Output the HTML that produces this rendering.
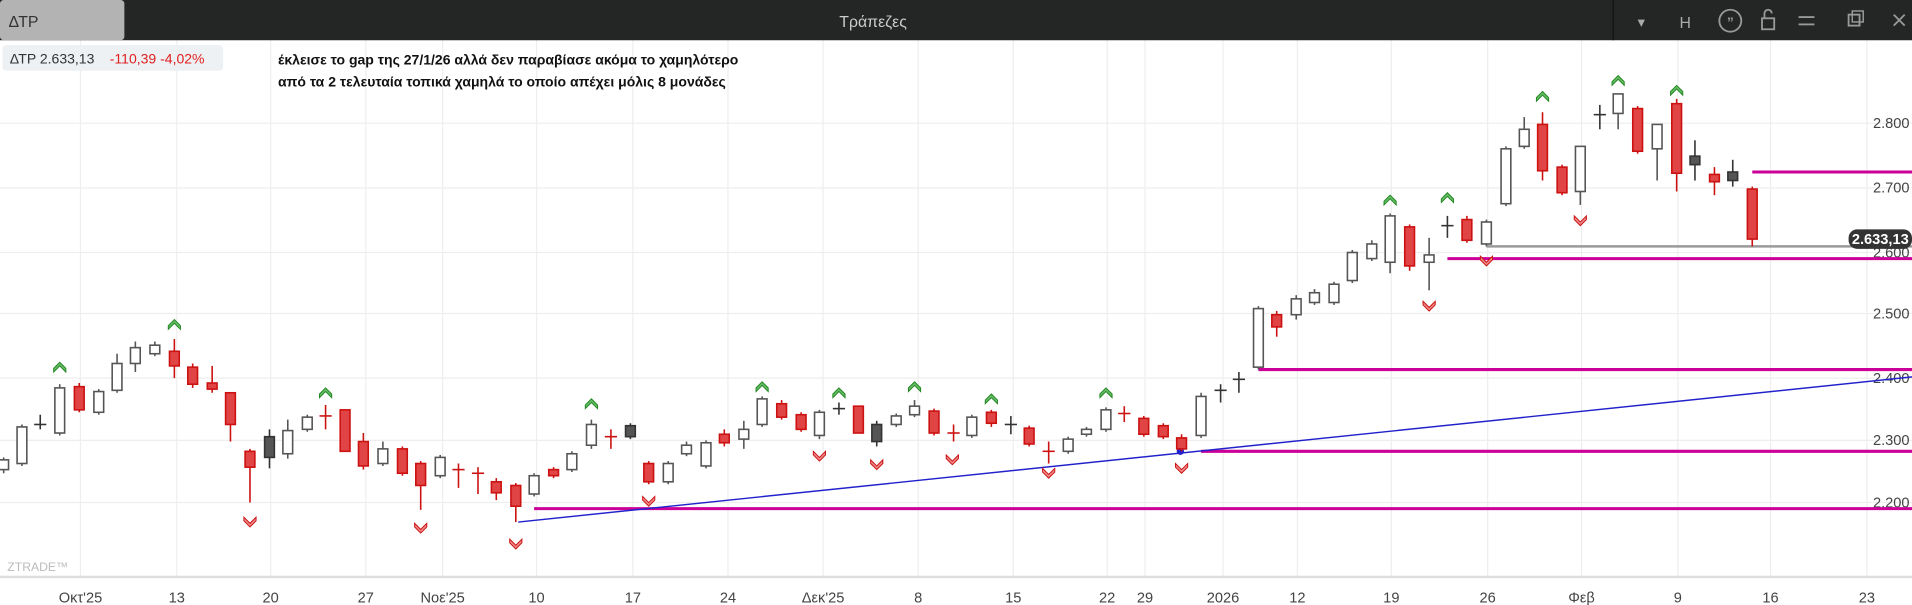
<!DOCTYPE html><html><head><meta charset="utf-8"><style>body{margin:0;background:#fff}svg{display:block}</style></head><body>
<svg width="1912" height="605" viewBox="0 0 1568 496" preserveAspectRatio="none" xmlns="http://www.w3.org/2000/svg" font-family="Liberation Sans, DejaVu Sans, sans-serif">
<rect width="1568" height="496" fill="#fff"/>
<g stroke="#eeeeee" stroke-width="1">
<line x1="0" y1="101" x2="1568" y2="101"/><line x1="0" y1="154" x2="1568" y2="154"/><line x1="0" y1="207" x2="1568" y2="207"/><line x1="0" y1="257" x2="1568" y2="257"/><line x1="0" y1="310" x2="1568" y2="310"/><line x1="0" y1="361" x2="1568" y2="361"/><line x1="0" y1="412" x2="1568" y2="412"/>
<line x1="66" y1="33" x2="66" y2="473"/><line x1="145" y1="33" x2="145" y2="473"/><line x1="222" y1="33" x2="222" y2="473"/><line x1="300" y1="33" x2="300" y2="473"/><line x1="363" y1="33" x2="363" y2="473"/><line x1="440" y1="33" x2="440" y2="473"/><line x1="519" y1="33" x2="519" y2="473"/><line x1="597" y1="33" x2="597" y2="473"/><line x1="675" y1="33" x2="675" y2="473"/><line x1="753" y1="33" x2="753" y2="473"/><line x1="831" y1="33" x2="831" y2="473"/><line x1="908" y1="33" x2="908" y2="473"/><line x1="939" y1="33" x2="939" y2="473"/><line x1="1003" y1="33" x2="1003" y2="473"/><line x1="1064" y1="33" x2="1064" y2="473"/><line x1="1141" y1="33" x2="1141" y2="473"/><line x1="1220" y1="33" x2="1220" y2="473"/><line x1="1297" y1="33" x2="1297" y2="473"/><line x1="1376" y1="33" x2="1376" y2="473"/><line x1="1452" y1="33" x2="1452" y2="473"/><line x1="1531" y1="33" x2="1531" y2="473"/>
</g>
<line x1="0" y1="473" x2="1568" y2="473" stroke="#dddddd" stroke-width="2"/>
<!-- top bar -->
<rect x="0" y="0" width="1568" height="33" fill="#232624"/>
<rect x="0" y="0" width="102" height="33" fill="#b3b3b3" rx="3"/>
<text x="7" y="22" font-size="13" fill="#333">ΔΤΡ</text>
<text x="716" y="22" font-size="13" fill="#ccc" text-anchor="middle">Τράπεζες</text>
<text x="1346" y="22" font-size="12" fill="#aaa" text-anchor="middle">▾</text>
<line x1="1323" y1="0" x2="1323" y2="33" stroke="#111"/>
<text x="1382" y="23" font-size="13" fill="#aaa" text-anchor="middle">H</text>
<circle cx="1419" cy="17" r="9" fill="none" stroke="#999" stroke-width="1.5"/><text x="1419" y="22" font-size="11" fill="#999" text-anchor="middle" font-weight="bold">”</text>
<rect x="1445" y="15" width="10" height="9" fill="none" stroke="#999" stroke-width="1.5"/><path d="M1447 15v-4a3 3 0 0 1 6 0" fill="none" stroke="#999" stroke-width="1.5"/>
<line x1="1475" y1="14" x2="1488" y2="14" stroke="#999" stroke-width="1.5"/><line x1="1475" y1="20" x2="1488" y2="20" stroke="#999" stroke-width="1.5"/>
<rect x="1516" y="12" width="9" height="9" fill="none" stroke="#999" stroke-width="1.5"/><rect x="1519" y="9" width="9" height="9" fill="none" stroke="#999" stroke-width="1.2"/>
<path d="M1553 12l9 9M1562 12l-9 9" stroke="#999" stroke-width="1.5"/>
<!-- info -->
<rect x="2" y="37" width="181" height="21" fill="#eef1f4" rx="3"/>
<text x="8" y="52" font-size="11.5" fill="#333">ΔΤΡ 2.633,13</text>
<text x="90" y="52" font-size="11.5" fill="#e02020">-110,39 -4,02%</text>
<text x="228" y="53" font-size="11.5" fill="#111" font-weight="bold">έκλεισε το gap της 27/1/26 αλλά δεν παραβίασε ακόμα το χαμηλότερο</text>
<text x="228" y="71" font-size="11.5" fill="#111" font-weight="bold">από τα 2 τελευταία τοπικά χαμηλά το οποίο απέχει μόλις 8 μονάδες</text>
<text x="6" y="468" font-size="10" fill="#bbb">ZTRADE™</text>
<!-- price axis -->
<g font-size="12" fill="#444" text-anchor="end">
<text x="1566" y="105">2.800</text><text x="1566" y="158">2.700</text><text x="1566" y="211">2.600</text><text x="1566" y="261">2.500</text><text x="1566" y="314">2.400</text><text x="1566" y="365">2.300</text><text x="1566" y="416">2.200</text>
</g>
<!-- dates -->
<g font-size="12" fill="#444" text-anchor="middle">
<text x="66" y="494">Οκτ'25</text><text x="145" y="494">13</text><text x="222" y="494">20</text><text x="300" y="494">27</text><text x="363" y="494">Νοε'25</text><text x="440" y="494">10</text><text x="519" y="494">17</text><text x="597" y="494">24</text><text x="675" y="494">Δεκ'25</text><text x="753" y="494">8</text><text x="831" y="494">15</text><text x="908" y="494">22</text><text x="939" y="494">29</text><text x="1003" y="494">2026</text><text x="1064" y="494">12</text><text x="1141" y="494">19</text><text x="1220" y="494">26</text><text x="1297" y="494">Φεβ</text><text x="1376" y="494">9</text><text x="1452" y="494">16</text><text x="1531" y="494">23</text>
</g>
<!-- lines -->
<g stroke="#cc0099" stroke-width="2.5">
<line x1="1437" y1="141" x2="1568" y2="141"/><line x1="1187" y1="212" x2="1568" y2="212"/><line x1="1032" y1="303" x2="1568" y2="303"/><line x1="985" y1="370" x2="1568" y2="370"/><line x1="438" y1="417" x2="1568" y2="417"/>
</g>
<line x1="1219" y1="202" x2="1568" y2="202" stroke="#999" stroke-width="2"/>
<line x1="425" y1="428" x2="1568" y2="309" stroke="#2222cc" stroke-width="1.2"/>
<circle cx="968" cy="370" r="3" fill="#2222cc"/>
<rect x="1516" y="188" width="52" height="16" rx="7" fill="#333"/><text x="1542" y="200" font-size="12" fill="#fff" text-anchor="middle" font-weight="bold">2.633,13</text>
<!-- candles: hollow -->
<g fill="#fff" stroke="#555" stroke-width="1.3">
<line x1="3" y1="375" x2="3" y2="388"/><rect x="-1" y="377" width="8" height="8"/>
<line x1="18" y1="348" x2="18" y2="382"/><rect x="14" y="350" width="8" height="30"/>
<line x1="49" y1="315" x2="49" y2="357"/><rect x="45" y="318" width="8" height="37"/>
<line x1="81" y1="319" x2="81" y2="340"/><rect x="77" y="321" width="8" height="17"/>
<line x1="96" y1="290" x2="96" y2="322"/><rect x="92" y="298" width="8" height="22"/>
<line x1="111" y1="280" x2="111" y2="305"/><rect x="107" y="285" width="8" height="13"/>
<line x1="127" y1="280" x2="127" y2="292"/><rect x="123" y="283" width="8" height="7"/>
<line x1="236" y1="344" x2="236" y2="376"/><rect x="232" y="353" width="8" height="19"/>
<line x1="252" y1="340" x2="252" y2="354"/><rect x="248" y="342" width="8" height="10"/>
<line x1="314" y1="362" x2="314" y2="382"/><rect x="310" y="368" width="8" height="12"/>
<line x1="361" y1="373" x2="361" y2="392"/><rect x="357" y="375" width="8" height="15"/>
<line x1="438" y1="388" x2="438" y2="407"/><rect x="434" y="390" width="8" height="15"/>
<line x1="469" y1="370" x2="469" y2="387"/><rect x="465" y="372" width="8" height="13"/>
<line x1="485" y1="344" x2="485" y2="368"/><rect x="481" y="348" width="8" height="17"/>
<line x1="548" y1="378" x2="548" y2="397"/><rect x="544" y="380" width="8" height="15"/>
<line x1="563" y1="362" x2="563" y2="374"/><rect x="559" y="365" width="8" height="7"/>
<line x1="579" y1="361" x2="579" y2="384"/><rect x="575" y="363" width="8" height="19"/>
<line x1="610" y1="345" x2="610" y2="368"/><rect x="606" y="352" width="8" height="8"/>
<line x1="625" y1="325" x2="625" y2="350"/><rect x="621" y="327" width="8" height="21"/>
<line x1="672" y1="336" x2="672" y2="360"/><rect x="668" y="338" width="8" height="19"/>
<line x1="735" y1="339" x2="735" y2="350"/><rect x="731" y="341" width="8" height="7"/>
<line x1="750" y1="328" x2="750" y2="342"/><rect x="746" y="333" width="8" height="7"/>
<line x1="797" y1="340" x2="797" y2="359"/><rect x="793" y="342" width="8" height="15"/>
<line x1="876" y1="358" x2="876" y2="372"/><rect x="872" y="360" width="8" height="10"/>
<line x1="891" y1="350" x2="891" y2="358"/><rect x="887" y="352" width="8" height="4"/>
<line x1="907" y1="334" x2="907" y2="354"/><rect x="903" y="336" width="8" height="16"/>
<line x1="985" y1="322" x2="985" y2="359"/><rect x="981" y="325" width="8" height="32"/>
<line x1="1032" y1="251" x2="1032" y2="303"/><rect x="1028" y="253" width="8" height="48"/>
<line x1="1063" y1="242" x2="1063" y2="262"/><rect x="1059" y="245" width="8" height="13"/>
<line x1="1078" y1="237" x2="1078" y2="250"/><rect x="1074" y="240" width="8" height="8"/>
<line x1="1094" y1="231" x2="1094" y2="250"/><rect x="1090" y="233" width="8" height="15"/>
<line x1="1109" y1="205" x2="1109" y2="232"/><rect x="1105" y="207" width="8" height="23"/>
<line x1="1125" y1="197" x2="1125" y2="214"/><rect x="1121" y="200" width="8" height="12"/>
<line x1="1140" y1="175" x2="1140" y2="224"/><rect x="1136" y="177" width="8" height="38"/>
<line x1="1172" y1="195" x2="1172" y2="238"/><rect x="1168" y="209" width="8" height="6"/>
<line x1="1219" y1="180" x2="1219" y2="202"/><rect x="1215" y="182" width="8" height="18"/>
<line x1="1235" y1="120" x2="1235" y2="169"/><rect x="1231" y="122" width="8" height="45"/>
<line x1="1250" y1="96" x2="1250" y2="122"/><rect x="1246" y="106" width="8" height="14"/>
<line x1="1296" y1="120" x2="1296" y2="168"/><rect x="1292" y="120" width="8" height="37"/>
<line x1="1327" y1="77" x2="1327" y2="106"/><rect x="1323" y="77" width="8" height="16"/>
<line x1="1359" y1="102" x2="1359" y2="148"/><rect x="1355" y="102" width="8" height="20"/>
</g>
<!-- dark candles / crosses -->
<g fill="#555" stroke="#333" stroke-width="1.3">
<line x1="33" y1="340" x2="33" y2="352"/><line x1="28" y1="348" x2="38" y2="348"/>
<line x1="221" y1="352" x2="221" y2="384"/><rect x="217" y="358" width="8" height="17"/>
<line x1="517" y1="347" x2="517" y2="360"/><rect x="513" y="349" width="8" height="9"/>
<line x1="688" y1="330" x2="688" y2="340"/><line x1="683" y1="335" x2="693" y2="335"/>
<line x1="719" y1="345" x2="719" y2="366"/><rect x="715" y="348" width="8" height="14"/>
<line x1="829" y1="341" x2="829" y2="356"/><line x1="824" y1="348" x2="834" y2="348"/>
<line x1="1001" y1="315" x2="1001" y2="330"/><line x1="996" y1="320" x2="1006" y2="320"/>
<line x1="1016" y1="305" x2="1016" y2="322"/><line x1="1011" y1="311" x2="1021" y2="311"/>
<line x1="1187" y1="177" x2="1187" y2="195"/><line x1="1182" y1="185" x2="1192" y2="185"/>
<line x1="1312" y1="86" x2="1312" y2="106"/><line x1="1307" y1="94" x2="1317" y2="94"/>
<line x1="1390" y1="115" x2="1390" y2="148"/><rect x="1386" y="128" width="8" height="7"/>
<line x1="1421" y1="131" x2="1421" y2="153"/><rect x="1417" y="141" width="8" height="7"/>
</g>
<!-- red candles -->
<g fill="#e04444" stroke="#cc1111" stroke-width="1.3">
<line x1="65" y1="314" x2="65" y2="338"/><rect x="61" y="317" width="8" height="19"/>
<line x1="143" y1="278" x2="143" y2="310"/><rect x="139" y="288" width="8" height="12"/>
<line x1="158" y1="298" x2="158" y2="318"/><rect x="154" y="301" width="8" height="14"/>
<line x1="174" y1="300" x2="174" y2="322"/><rect x="170" y="314" width="8" height="5"/>
<line x1="189" y1="322" x2="189" y2="362"/><rect x="185" y="322" width="8" height="26"/>
<line x1="205" y1="368" x2="205" y2="412"/><rect x="201" y="370" width="8" height="13"/>
<line x1="267" y1="332" x2="267" y2="352"/><line x1="262" y1="341" x2="272" y2="341"/>
<line x1="283" y1="336" x2="283" y2="370"/><rect x="279" y="336" width="8" height="34"/>
<line x1="298" y1="355" x2="298" y2="385"/><rect x="294" y="362" width="8" height="20"/>
<line x1="330" y1="366" x2="330" y2="390"/><rect x="326" y="368" width="8" height="20"/>
<line x1="345" y1="378" x2="345" y2="418"/><rect x="341" y="380" width="8" height="18"/>
<line x1="376" y1="380" x2="376" y2="400"/><line x1="371" y1="385" x2="381" y2="385"/>
<line x1="392" y1="383" x2="392" y2="405"/><line x1="387" y1="388" x2="397" y2="388"/>
<line x1="407" y1="392" x2="407" y2="410"/><rect x="403" y="395" width="8" height="9"/>
<line x1="423" y1="396" x2="423" y2="428"/><rect x="419" y="398" width="8" height="17"/>
<line x1="454" y1="383" x2="454" y2="392"/><rect x="450" y="385" width="8" height="5"/>
<line x1="501" y1="352" x2="501" y2="368"/><line x1="496" y1="358" x2="506" y2="358"/>
<line x1="532" y1="378" x2="532" y2="397"/><rect x="528" y="380" width="8" height="15"/>
<line x1="594" y1="352" x2="594" y2="366"/><rect x="590" y="356" width="8" height="7"/>
<line x1="641" y1="328" x2="641" y2="344"/><rect x="637" y="331" width="8" height="11"/>
<line x1="657" y1="338" x2="657" y2="354"/><rect x="653" y="340" width="8" height="12"/>
<line x1="704" y1="333" x2="704" y2="355"/><rect x="700" y="333" width="8" height="22"/>
<line x1="766" y1="335" x2="766" y2="357"/><rect x="762" y="337" width="8" height="18"/>
<line x1="782" y1="348" x2="782" y2="362"/><line x1="777" y1="355" x2="787" y2="355"/>
<line x1="813" y1="336" x2="813" y2="350"/><rect x="809" y="338" width="8" height="9"/>
<line x1="844" y1="349" x2="844" y2="366"/><rect x="840" y="351" width="8" height="13"/>
<line x1="860" y1="362" x2="860" y2="380"/><line x1="855" y1="370" x2="865" y2="370"/>
<line x1="922" y1="333" x2="922" y2="346"/><line x1="917" y1="339" x2="927" y2="339"/>
<line x1="938" y1="341" x2="938" y2="358"/><rect x="934" y="343" width="8" height="13"/>
<line x1="954" y1="347" x2="954" y2="360"/><rect x="950" y="349" width="8" height="9"/>
<line x1="969" y1="356" x2="969" y2="370"/><rect x="965" y="359" width="8" height="9"/>
<line x1="1047" y1="255" x2="1047" y2="276"/><rect x="1043" y="258" width="8" height="10"/>
<line x1="1156" y1="184" x2="1156" y2="222"/><rect x="1152" y="186" width="8" height="32"/>
<line x1="1203" y1="177" x2="1203" y2="199"/><rect x="1199" y="180" width="8" height="17"/>
<line x1="1265" y1="92" x2="1265" y2="148"/><rect x="1261" y="102" width="8" height="38"/>
<line x1="1281" y1="135" x2="1281" y2="160"/><rect x="1277" y="137" width="8" height="21"/>
<line x1="1343" y1="87" x2="1343" y2="126"/><rect x="1339" y="89" width="8" height="35"/>
<line x1="1375" y1="81" x2="1375" y2="157"/><rect x="1371" y="85" width="8" height="57"/>
<line x1="1406" y1="137" x2="1406" y2="160"/><rect x="1402" y="143" width="8" height="6"/>
<line x1="1437" y1="153" x2="1437" y2="202"/><rect x="1433" y="155" width="8" height="41"/>
</g>
<!-- up arrows -->
<g fill="#66bb66" stroke="#228822" stroke-width="0.8">
<path d="M44 302l5-5 5 5v3l-5-5-5 5z"/><path d="M138 267l5-5 5 5v3l-5-5-5 5z"/><path d="M262 323l5-5 5 5v3l-5-5-5 5z"/><path d="M480 332l5-5 5 5v3l-5-5-5 5z"/><path d="M620 318l5-5 5 5v3l-5-5-5 5z"/><path d="M683 323l5-5 5 5v3l-5-5-5 5z"/><path d="M745 318l5-5 5 5v3l-5-5-5 5z"/><path d="M808 328l5-5 5 5v3l-5-5-5 5z"/><path d="M902 323l5-5 5 5v3l-5-5-5 5z"/><path d="M1135 165l5-5 5 5v3l-5-5-5 5z"/><path d="M1182 163l5-5 5 5v3l-5-5-5 5z"/><path d="M1260 80l5-5 5 5v3l-5-5-5 5z"/><path d="M1322 67l5-5 5 5v3l-5-5-5 5z"/><path d="M1370 75l5-5 5 5v3l-5-5-5 5z"/>
</g>
<!-- down arrows -->
<g fill="#ee8888" stroke="#cc1111" stroke-width="0.8">
<path d="M200 424l5 5 5-5v3l-5 5-5-5z"/><path d="M340 429l5 5 5-5v3l-5 5-5-5z"/><path d="M418 442l5 5 5-5v3l-5 5-5-5z"/><path d="M527 407l5 5 5-5v3l-5 5-5-5z"/><path d="M667 370l5 5 5-5v3l-5 5-5-5z"/><path d="M714 377l5 5 5-5v3l-5 5-5-5z"/><path d="M776 373l5 5 5-5v3l-5 5-5-5z"/><path d="M855 384l5 5 5-5v3l-5 5-5-5z"/><path d="M964 380l5 5 5-5v3l-5 5-5-5z"/><path d="M1167 247l5 5 5-5v3l-5 5-5-5z"/><path d="M1214 210l5 5 5-5v3l-5 5-5-5z"/><path d="M1291 177l5 5 5-5v3l-5 5-5-5z"/>
</g>
</svg>
</body></html>
